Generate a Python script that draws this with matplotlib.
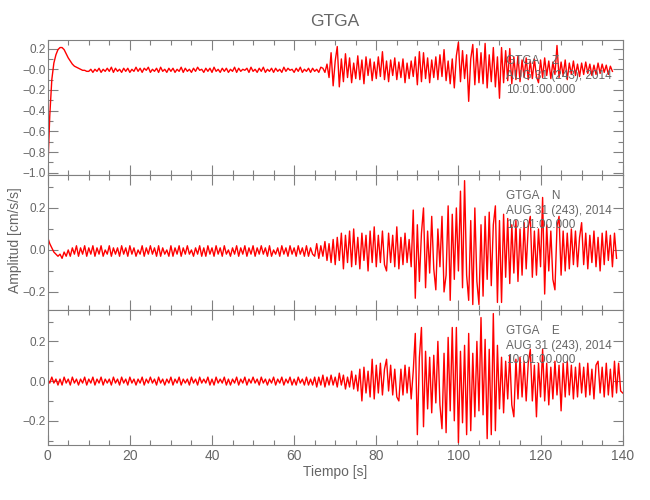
import numpy as np
import matplotlib
matplotlib.use("Agg")
import matplotlib.pyplot as plt
from matplotlib.ticker import MultipleLocator, FixedLocator, FixedFormatter

plt.rcParams['font.family'] = ['Liberation Sans', 'DejaVu Sans']

# sample interval [s]; amplitudes below are in 0.01 cm/s/s
DT = 0.5

comp_z = [
    -100, -45, -10, 6, 14, 19, 21, 21, 19, 15, 11, 8, 5, 3, 2, 1, 0, -1, -1, -2,
    -2, 0, -3, 0, -2, 1, -3, 0, -2, 1, -2, 2, -3, 1, -2, 0, -3, 1, -2, 1,
    -3, 0, -2, 2, -2, 1, -3, 1, -1, 2, -3, 0, -2, 1, -3, 2, -2, 0, -3, 1,
    -2, 1, -3, 0, -2, 2, -3, 1, -2, 0, -3, 1, -2, 2, -1, 0, -3, 1, -2, 1,
    -3, 2, -2, 0, -3, 1, -2, 1, -3, 0, -2, 2, -3, 1, -2, 0, -1, 1, -3, 2,
    -2, 0, -3, 1, -2, 2, -3, 0, -2, 1, -3, 1, -2, 0, -3, 2, -2, 1, -1, 0,
    -3, 1, -2, 2, -3, 0, -2, 1, -3, 1, -2, 0, -3, 2, 1, -3, 5, -8, 16, -16,
    8, 22, -17, 10, -12, 15, -8, 11, -13, 6, -9, 13, -10, 9, -14, 12, -6, 10, -11, 7,
    -9, 12, -7, 17, -10, 8, -12, 9, -6, 11, -10, 7, -8, 10, -13, 6, -9, 8, -7, 12,
    -15, 17, -12, 16, -9, 11, -13, 9, -8, 12, -10, 14, -7, 19, -11, 8, -14, 10, -18, 13,
    26, -12, 18, -9, 14, -31, 10, 24, -15, 20, -13, 16, -14, 25, -18, 14, -12, 21, -17, 12,
    -28, 21, -13, 18, -11, 20, -14, 12, -10, 13, -12, 9, -8, 11, -10, 8, -9, 10, -7, -13,
    9, -8, 11, -6, 8, -9, 7, -5, 23, -8, 7, -6, 9, -10, 6, -5, 8, -6, 5, -7,
    6, -5, 7, -4, 5, -6, 4, -5, 6, -4, 5, -3, 4, -5, 3, -2,
]

comp_n = [
    6, 3, 1, -1, -2, -3, -2, -4, -1, -3, 0, -3, 1, -2, 2, -3, 1, -2, 2, -3,
    1, -2, 2, -3, 1, -2, 2, -3, 0, -2, 2, -3, 1, -2, 1, -3, 2, -2, 1, -3,
    2, -2, 1, -3, 0, -2, 2, -3, 1, -2, 2, -2, 1, -3, 2, -3, 1, -2, 0, -3,
    2, -3, 1, -2, 2, -3, 1, -2, 2, -2, 0, -3, 1, -2, 2, -3, 1, -3, 2, -2,
    1, -3, 2, -2, 1, -3, 2, -2, 0, -3, 1, -2, 2, -3, 1, -2, 2, -3, 1, -2,
    2, -3, 1, -2, 2, -2, 1, -3, 2, -3, 0, -2, 1, -3, 2, -2, 1, -3, 2, -2,
    1, -3, 2, -2, 1, -3, 2, -3, 1, -2, -3, 3, -4, 2, -3, 4, -5, 3, -6, 5,
    -7, 6, -5, 8, -9, 7, -6, 9, -8, 10, -7, 6, -9, 8, -5, 7, -10, 9, -6, 11,
    -8, 7, -6, 9, -7, -10, 8, -6, 7, -8, 11, -9, 6, -7, 8, -6, 5, -8, 19, -23,
    12, -15, 8, 20, -18, 9, -11, 16, -9, -19, 10, -8, 16, -20, -12, 21, -24, 17, -14, 20,
    -10, 28, -18, 33, -12, -24, 14, -26, 20, -15, -26, 12, -22, 16, -14, 18, -17, 12, 21, -25,
    14, -25, 17, -13, 15, -16, 12, -11, 14, -15, 10, -12, 13, -9, 11, 16, -13, 9, -12, 10,
    -8, 25, -21, 12, -10, 9, -14, -19, 11, 16, -12, 9, -10, 8, -9, 10, -7, 9, -8, 6,
    13, -7, 8, -9, 7, -6, 9, -8, 6, -10, 8, -7, 9, -5, 7, -8, 8, -4,
]

comp_e = [
    1, -1, 2, -1, 1, -2, 1, -2, 2, -1, 1, -2, 2, -1, 1, -2, 1, -1, 2, -2,
    1, -1, 2, -2, 1, -1, 2, -2, 1, -1, 1, -2, 2, -1, 1, -2, 2, -1, 1, -2,
    2, -1, 1, -2, 1, -1, 2, -2, 1, -1, 2, -1, 1, -2, 2, -1, 1, -2, 1, -1,
    2, -2, 1, -1, 2, -2, 1, -1, 1, -2, 2, -1, 1, -2, 2, -1, 1, -1, 2, -2,
    1, -2, 2, -1, 1, -1, 2, -2, 1, -2, 1, -1, 2, -2, 1, -1, 2, -2, 1, -1,
    2, -1, 1, -2, 2, -1, 1, -2, 1, -1, 2, -2, 1, -1, 2, -2, 1, -1, 2, -2,
    1, -2, 2, -1, 1, -2, 2, -2, 1, -2, 2, -3, 2, -2, 3, -3, 2, -2, 3, -2,
    2, -3, 4, -2, 3, -4, 2, -3, 5, -4, 3, -5, 6, -10, 7, -6, 5, -8, 11, -9,
    8, -6, 9, -7, 6, 11, -5, 8, -7, 6, -8, -10, 6, -7, 8, -6, 7, -9, 5, 24,
    -27, 12, 27, -23, 15, -14, 12, -16, 13, -11, 20, -12, -24, 14, -26, 22, -15, 27, -20, 27,
    -31, 15, -21, 18, -27, 24, -25, 14, -18, 20, -15, 32, -17, 21, -29, 16, -27, 34, -25, 18,
    -14, 12, -16, 10, -9, 13, -12, -18, 11, -9, 12, -8, 10, -10, 9, 16, -10, 8, -18, 9,
    -8, 16, -10, 9, -12, 7, -9, 10, -7, 8, -15, 9, -8, 10, -7, 8, -9, 7, -8, 9,
    -6, 7, -8, 9, -7, 6, -9, 8, 10, -6, 7, -8, 9, -7, 6, -8, 10, -6, 9, -5,
    -6,
]

components = ['Z', 'N', 'E']
traces = [comp_z, comp_n, comp_e]
ylims = [(-1.022, 0.283), (-0.286, 0.357), (-0.322, 0.358)]
yticks = [[0.2, 0.0, -0.2, -0.4, -0.6, -0.8, -1.0], [0.2, 0.0, -0.2], [0.2, 0.0, -0.2]]
ylabels = [['0.2', '\u22120.0', '\u22120.2', '\u22120.4', '\u22120.6', '\u22120.8', '\u22121.0'],
           ['0.2', '0.0', '\u22120.2'], ['0.2', '0.0', '\u22120.2']]
station = 'GTGA'
date_txt = 'AUG 31 (243), 2014'
time_txt = '10:01:00.000'

GRAY = '#666666'
AXC = '#808080'

fig = plt.figure(figsize=(6.5, 5), dpi=100)
left, width = 47.7 / 650, 575.0 / 650
tops = [40, 175, 310]
h = 135

for i in range(3):
    ax = fig.add_axes([left, 1 - (tops[i] + h) / 500, width, h / 500])
    vals = np.array(traces[i]) * 0.01
    t = np.arange(len(vals)) * DT
    ax.plot(t, vals, color='#ff0000', lw=1.0)
    ax.set_xlim(0, 140)
    ax.set_ylim(*ylims[i])
    ax.xaxis.set_major_locator(MultipleLocator(20))
    ax.xaxis.set_minor_locator(MultipleLocator(5))
    ax.yaxis.set_major_locator(FixedLocator(yticks[i]))
    ax.yaxis.set_major_formatter(FixedFormatter(ylabels[i]))
    ax.yaxis.set_minor_locator(MultipleLocator(0.1))
    ax.tick_params(which='both', direction='in', top=True, right=True,
                   colors=AXC, labelcolor=GRAY, width=0.8)
    ax.tick_params(which='major', length=7)
    ax.tick_params(which='minor', length=3.5)
    ax.tick_params(axis='y', labelsize=8.5, pad=1.5)
    ax.tick_params(axis='x', labelsize=10, pad=3)
    for sp in ax.spines.values():
        sp.set_color(AXC)
        sp.set_linewidth(0.8)
    if i < 2:
        ax.tick_params(axis='x', labelbottom=False)
    xa = (506 - 47.7) / 575
    ax.text(xa, 1 - 21 / 135, f'{station}    {components[i]}', transform=ax.transAxes,
            fontsize=8.5, color=GRAY, va='center', ha='left')
    ax.text(xa, 1 - 36 / 135, date_txt, transform=ax.transAxes,
            fontsize=8.5, color=GRAY, va='center', ha='left')
    ax.text(xa, 1 - 50 / 135, time_txt, transform=ax.transAxes,
            fontsize=8.5, color=GRAY, va='center', ha='left')

fig.text(335 / 650, 1 - 22 / 500, station, ha='center', va='center', fontsize=12.5, color=GRAY)
fig.text(335 / 650, 1 - 472 / 500, 'Tiempo [s]', ha='center', va='center', fontsize=10, color=GRAY)
fig.text(15 / 650, 1 - 240 / 500, 'Amplitud [cm/s/s]', ha='center', va='center',
         rotation=90, fontsize=10, color=GRAY)

fig.savefig('out.png', dpi=100)
